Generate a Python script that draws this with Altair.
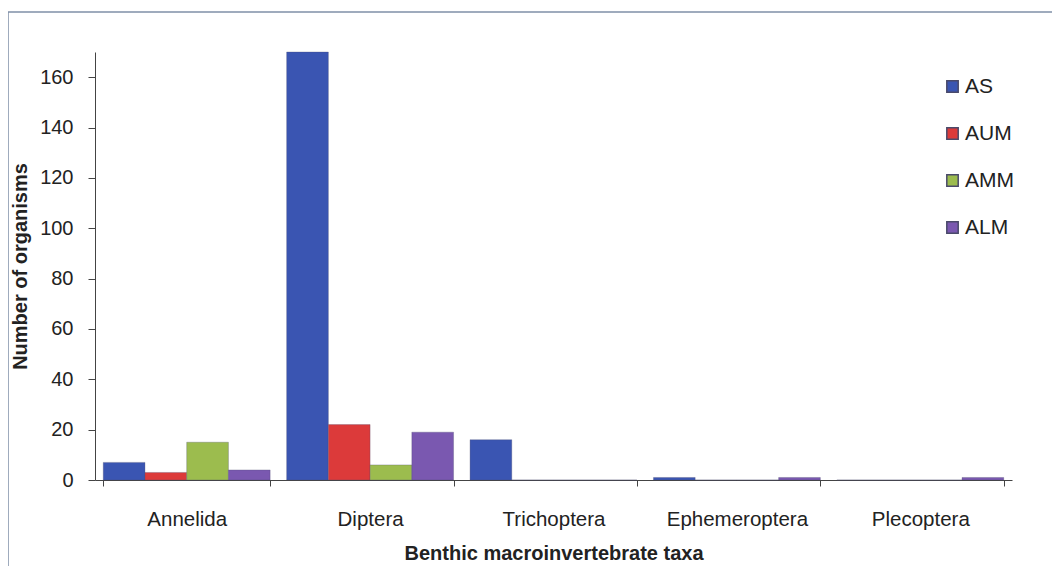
import altair as alt
import pandas as pd

taxa = ["Annelida", "Diptera", "Trichoptera", "Ephemeroptera", "Plecoptera"]
sites = ["AS", "AUM", "AMM", "ALM"]
AS = [7, 170, 16, 1, 0]
AUM = [3, 22, 0, 0, 0]
AMM = [15, 6, 0, 0, 0]
ALM = [4, 19, 0, 1, 1]
colors = ["#3A55B2", "#DC3A3A", "#9CBC4E", "#7A58B0"]

rows = []
for s, vals in zip(sites, [AS, AUM, AMM, ALM]):
    for t, v in zip(taxa, vals):
        rows.append({"taxon": t, "site": s, "value": v})
df = pd.DataFrame(rows)

font = "Liberation Sans"

bars = alt.Chart(df).mark_bar(stroke="#4a4a6a", strokeWidth=0.6, strokeOpacity=0.5).encode(
    x=alt.X("taxon:N", sort=taxa,
            scale=alt.Scale(paddingInner=0.09, paddingOuter=0.045),
            axis=alt.Axis(title="Benthic macroinvertebrate taxa", labelAngle=0,
                          tickBand="extent", tickSize=6, labelPadding=23,
                          labelFontSize=20.5, labelFont=font, labelColor="#222",
                          titleFont=font, titleFontSize=20, titleFontWeight="bold",
                          titleColor="#222", titlePadding=14,
                          domainColor="#444", tickColor="#444")),
    xOffset=alt.XOffset("site:N", sort=sites),
    y=alt.Y("value:Q", scale=alt.Scale(domain=[0, 170], nice=False),
            axis=alt.Axis(title="Number of organisms", values=list(range(0, 161, 20)),
                          grid=False, tickSize=7, labelPadding=15,
                          labelFontSize=20, labelFont=font, labelColor="#222",
                          titleFont=font, titleFontSize=20, titleFontWeight="bold",
                          titleColor="#222", titlePadding=9,
                          domainColor="#444", tickColor="#444")),
    color=alt.Color("site:N", sort=sites,
                    scale=alt.Scale(domain=sites, range=colors),
                    legend=alt.Legend(title=None, orient="none", legendX=847, legendY=24,
                                      symbolType="square", symbolSize=130,
                                      labelFontSize=21, labelFont=font, labelColor="#222",
                                      rowPadding=25, labelOffset=2)),
)

frame = alt.Chart(df).mark_rect(fill=None, stroke="#8090A8", strokeWidth=1.5, clip=False).encode(
    x=alt.value(-87), x2=alt.value(1300), y=alt.value(-40), y2=alt.value(700)
).transform_filter(alt.datum.site == "AS").transform_filter(alt.datum.taxon == "Annelida")

chart = alt.layer(frame, bars).properties(
    width=917, height=428,
    background="#ffffff",
    autosize=alt.AutoSizeParams(type="none"),
    padding={"left": 87, "top": 44, "right": 40, "bottom": 86},
).configure_view(strokeWidth=0, stroke="transparent")

chart.save("out.html", embed_options={"renderer": "svg", "actions": False})
